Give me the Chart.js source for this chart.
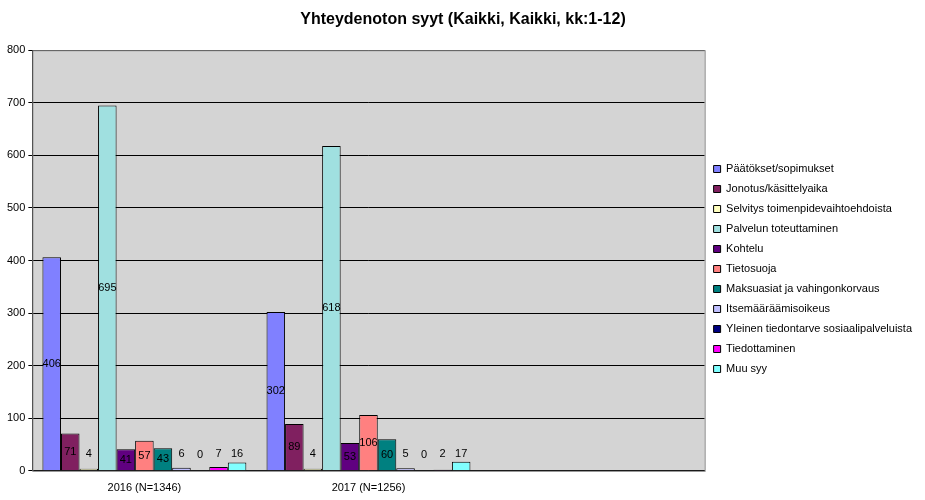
<!DOCTYPE html>
<html>
<head>
<meta charset="utf-8">
<script src="https://cdn.jsdelivr.net/npm/chart.js@4"></script>
<style>
  body { margin: 0; background: #fff; }
  #wrap { width: 925px; height: 500px; }
</style>
</head>
<body>
<div id="wrap"><canvas id="c"></canvas></div>
<script>
const categories = ['2016 (N=1346)', '2017 (N=1256)', ''];
const seriesNames = ['Päätökset/sopimukset', 'Jonotus/käsittelyaika', 'Selvitys toimenpidevaihtoehdoista',
  'Palvelun toteuttaminen', 'Kohtelu', 'Tietosuoja', 'Maksuasiat ja vahingonkorvaus', 'Itsemääräämisoikeus',
  'Yleinen tiedontarve sosiaalipalveluista', 'Tiedottaminen', 'Muu syy'];
const values2016 = [406, 71, 4, 695, 41, 57, 43, 6, 0, 7, 16];
const values2017 = [302, 89, 4, 618, 53, 106, 60, 5, 0, 2, 17];
const colors = ['#8080FF', '#802060', '#FFFFC0', '#A0E0E0', '#600080', '#FF8080', '#008080', '#C0C0FF', '#000080', '#FF00FF', '#80FFFF'];
const yTicks = [0, 100, 200, 300, 400, 500, 600, 700, 800];

const datasets = seriesNames.map((name, i) => ({
  label: name,
  data: [values2016[i], values2017[i], null],
  backgroundColor: colors[i],
  borderColor: '#000',
  borderWidth: 1,
  barPercentage: 1,
  categoryPercentage: 0.91
}));

const frame = {
  id: 'frame',
  afterLayout(chart) {
    // Excel places the legend a bit below the vertical centre
    const lg = chart.legend;
    lg.top += 18;
    lg.bottom += 18;
    if (lg.adjustHitBoxes) lg.adjustHitBoxes();
  },
  beforeDraw(chart) {
    const { ctx, chartArea: a } = chart;
    ctx.save();
    ctx.fillStyle = '#D4D4D4';
    ctx.fillRect(a.left, a.top, a.right - a.left, a.bottom - a.top);
    ctx.restore();
  },
  afterDraw(chart) {
    const { ctx, chartArea: a } = chart;
    ctx.save();
    ctx.strokeStyle = '#808080';
    ctx.lineWidth = 1;
    ctx.strokeRect(a.left + 0.5, a.top + 0.5, a.right - a.left, a.bottom - a.top);
    // legend border around the items
    const hb = chart.legend.legendHitBoxes;
    if (hb && hb.length) {
      const x0 = Math.min(...hb.map(b => b.left)) - 7;
      const y0 = Math.min(...hb.map(b => b.top)) - 6;
      const x1 = Math.max(...hb.map(b => b.left + b.width)) + 5;
      const y1 = Math.max(...hb.map(b => b.top + b.height)) + 6;
      ctx.strokeStyle = '#000';
      ctx.strokeRect(Math.round(x0) + 0.5, Math.round(y0) + 0.5, Math.round(x1 - x0), Math.round(y1 - y0));
    }
    // value labels
    ctx.font = '11px Arial';
    ctx.fillStyle = '#000';
    ctx.textAlign = 'center';
    ctx.textBaseline = 'middle';
    chart.data.datasets.forEach((ds, i) => {
      chart.getDatasetMeta(i).data.forEach((bar, j) => {
        const v = ds.data[j];
        if (v == null) return;
        const h = bar.base - bar.y;
        const y = h > 16 ? bar.y + h / 2 : bar.base - 16;
        ctx.fillText(String(v), bar.x, y);
      });
    });
    ctx.restore();
  }
};

new Chart(document.getElementById('c'), {
  type: 'bar',
  data: { labels: categories, datasets },
  plugins: [frame],
  options: {
    responsive: true,
    maintainAspectRatio: false,
    animation: false,
    layout: { padding: { left: 4, right: 3, top: 4, bottom: 2 } },
    plugins: {
      title: {
        display: true,
        text: 'Yhteydenoton syyt (Kaikki, Kaikki, kk:1-12)',
        color: '#000',
        font: { family: 'Arial', size: 16, weight: 'bold' },
        padding: { top: 6, bottom: 21 }
      },
      legend: {
        position: 'right',
        align: 'center',
        labels: {
          color: '#000',
          font: { family: 'Arial', size: 11 },
          boxWidth: 7,
          boxHeight: 7,
          padding: 9
        }
      },
      tooltip: { enabled: false }
    },
    scales: {
      x: {
        grid: { display: false, drawTicks: true },
        border: { color: '#000' },
        ticks: { color: '#000', font: { family: 'Arial', size: 11 } }
      },
      y: {
        min: 0,
        max: 800,
        afterBuildTicks(axis) { axis.ticks = yTicks.map(v => ({ value: v })); },
        grid: { color: '#000', tickLength: 4 },
        border: { color: '#000' },
        ticks: { color: '#000', font: { family: 'Arial', size: 11 } }
      }
    }
  }
});
</script>
</body>
</html>
